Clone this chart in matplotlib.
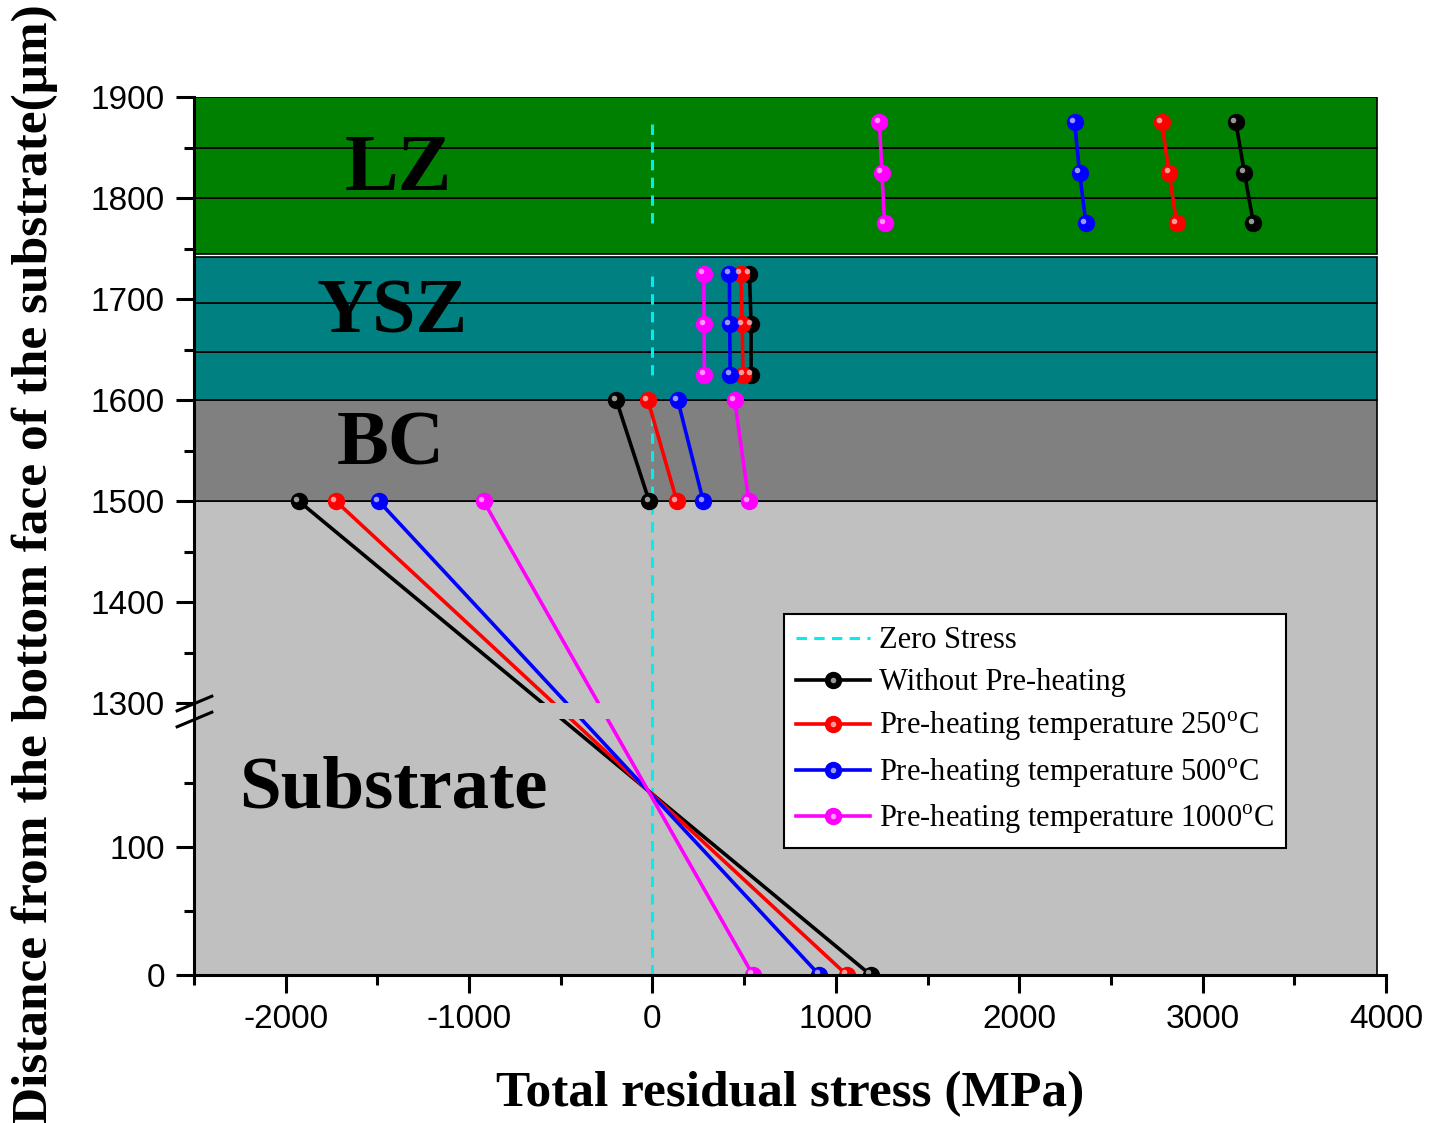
import numpy as np
import matplotlib
matplotlib.use("Agg")
import matplotlib.pyplot as plt
from matplotlib.patches import Rectangle
from matplotlib.path import Path
from matplotlib.transforms import offset_copy, blended_transform_factory
from matplotlib.legend_handler import HandlerTuple

plt.rcParams['font.family'] = ['Liberation Serif', 'DejaVu Serif']
plt.rcParams['mathtext.fontset'] = 'custom'
plt.rcParams['mathtext.rm'] = 'Liberation Serif'
plt.rcParams['axes.unicode_minus'] = False

# --- DATA ---
SERIES = ["Without Pre-heating",
          "Pre-heating temperature 250$^{\\mathrm{o}}$C",
          "Pre-heating temperature 500$^{\\mathrm{o}}$C",
          "Pre-heating temperature 1000$^{\\mathrm{o}}$C"]
COLORS = ['black', '#FF0000', '#0000FF', '#FF00FF']

# depth positions (um) of the points in each layer
SUB_Y = [0, 1500]
BC_Y = [1500, 1600]
YSZ_Y = [1625, 1675, 1725]
LZ_Y = [1775, 1825, 1875]

# stress (MPa), one row per series
SUB_X = [[1190, -1929], [1060, -1727], [910, -1493], [548, -921]]
BC_X = [[-18, -197], [133, -25], [277, 138], [526, 448]]
YSZ_X = [[538, 538, 529], [494, 489, 482], [424, 421, 420], [283, 282, 280]]
LZ_X = [[3277, 3228, 3181], [2859, 2817, 2777], [2364, 2329, 2302], [1266, 1251, 1238]]

ZERO_Y = [[0, 1600], [1625, 1725], [1775, 1875]]

# layer boxes (um)
LZ_EDGES = [1745, 1800, 1850, 1900]
YSZ_EDGES = [1600, 1648, 1696, 1742]
BC_EDGES = [1500, 1600]
SUB_EDGES = [0, 1500]
BOX_X = (-2500, 3950)

# broken y axis: 0-200 and 1300-1900
BREAK_LO, BREAK_HI = 200, 1300


def fwd(y):
    y = np.asarray(y, dtype=float)
    return np.where(y <= BREAK_LO, y * 1.28,
                    np.where(y >= BREAK_HI, 272 + (y - BREAK_HI) * 1.01,
                             256 + (y - BREAK_LO) * 16.0 / 1100))


def inv(f):
    f = np.asarray(f, dtype=float)
    return np.where(f <= 256, f / 1.28,
                    np.where(f >= 272, BREAK_HI + (f - 272) / 1.01,
                             BREAK_LO + (f - 256) * 1100 / 16.0))


fig = plt.figure(figsize=(14.43, 11.23), dpi=100)
ax = fig.add_axes([0.1344, 0.1318, 0.8261, 0.7818])
ax.set_yscale('function', functions=(fwd, inv))
ax.set_xlim(-2500, 4000)
ax.set_ylim(0, 1900)

# --- layer boxes ---
def boxes(edges, color):
    for lo, hi in zip(edges[:-1], edges[1:]):
        ax.add_patch(Rectangle((BOX_X[0], lo), BOX_X[1] - BOX_X[0], hi - lo,
                               facecolor=color, edgecolor='black', lw=1.2, zorder=0.5))

boxes(SUB_EDGES, '#C0C0C0')
boxes(BC_EDGES, '#808080')
boxes(YSZ_EDGES, '#008080')
boxes(LZ_EDGES, '#008000')

# clip region that leaves out the axis break
clip = Path.make_compound_path(
    Path([(-2500, 0), (4000, 0), (4000, BREAK_LO), (-2500, BREAK_LO), (-2500, 0)], closed=True),
    Path([(-2500, BREAK_HI), (4000, BREAK_HI), (4000, 1900), (-2500, 1900), (-2500, BREAK_HI)], closed=True))

# zero stress line
zx, zy = [], []
for seg in ZERO_Y:
    zx += [0] * len(seg) + [np.nan]
    zy += seg + [np.nan]
zero_line, = ax.plot(zx, zy, color='#00EEEE', lw=2.2, ls=(0, (3.4, 2.4)), zorder=1.5)

# --- series ---
hl_trans = offset_copy(ax.transData, fig=fig, x=-2.5, y=2.5, units='dots')
handles = [zero_line]
for i, c in enumerate(COLORS):
    xs = np.concatenate([SUB_X[i], [np.nan], BC_X[i], [np.nan], YSZ_X[i], [np.nan], LZ_X[i]])
    ys = np.concatenate([SUB_Y, [np.nan], BC_Y, [np.nan], YSZ_Y, [np.nan], LZ_Y])
    ln, = ax.plot(xs, ys, color=c, lw=2.6, marker='o', ms=11.5, mec=c, mfc=c, zorder=3)
    ln.set_clip_path(clip, ax.transData)
    hl, = ax.plot(xs, ys, ls='none', marker='o', ms=4, mfc='white', mec='none',
                  alpha=0.6, transform=hl_trans, zorder=3.1)
    handles.append((ln, hl))

# layer names
ax.text(-1384, 1808, "LZ", fontsize=58, fontweight='bold', ha='center', va='baseline', zorder=4)
ax.text(-1417, 1667, "YSZ", fontsize=56, fontweight='bold', ha='center', va='baseline', zorder=4)
ax.text(-1428, 1536, "BC", fontsize=56, fontweight='bold', ha='center', va='baseline', zorder=4)
ax.text(-1411, 131, "Substrate", fontsize=54, fontweight='bold', ha='center', va='baseline', zorder=4)

# --- axes styling ---
for s in ['top', 'right']:
    ax.spines[s].set_visible(False)
for s in ['left', 'bottom']:
    ax.spines[s].set_linewidth(2.2)
    ax.spines[s].set_zorder(5)

ax.set_xticks(np.arange(-2000, 4001, 1000))
ax.set_xticks(np.arange(-2500, 4000, 1000), minor=True)
ax.set_yticks([0, 100, 1300, 1400, 1500, 1600, 1700, 1800, 1900])
ax.set_yticks([50, 150, 1350, 1450, 1550, 1650, 1750, 1850], minor=True)
ax.yaxis.set_major_formatter(matplotlib.ticker.FormatStrFormatter('%d'))
ax.yaxis.set_minor_formatter(matplotlib.ticker.NullFormatter())
ax.tick_params(which='major', direction='out', length=13, width=2.2, pad=8, labelsize=24)
ax.tick_params(which='minor', direction='out', length=7.5, width=2.2)
for lab in ax.get_xticklabels() + ax.get_yticklabels():
    lab.set_fontfamily('Liberation Sans')

# break marks on the y axis
slash = Path([(-1, -0.42), (1, 0.42)], [Path.MOVETO, Path.LINETO])
bt = blended_transform_factory(ax.transAxes, ax.transData)
ax.plot([0, 0], [BREAK_HI, BREAK_LO], transform=bt, ls='none', marker=slash, ms=27,
        mec='black', mew=2.2, clip_on=False, zorder=6)

ax.set_xlabel("Total residual stress (MPa)", fontsize=37, fontweight='bold', labelpad=26)
ax.set_ylabel("Distance from the bottom face of the substrate(\u03bcm)", fontsize=37, fontweight='bold')
ax.yaxis.set_label_coords(-0.114, 0.468)

leg = ax.legend(handles, ["Zero Stress"] + SERIES, loc='upper left', bbox_to_anchor=(0.495, 0.411),
                borderaxespad=0, fontsize=22, fancybox=False, edgecolor='black', framealpha=1,
                handlelength=2.4, handletextpad=0.3, labelspacing=0.42, borderpad=0.4,
                handler_map={tuple: HandlerTuple(ndivide=1)})
leg.get_frame().set_linewidth(1.5)
leg.set_zorder(7)

fig.savefig("out.png", dpi=100)
